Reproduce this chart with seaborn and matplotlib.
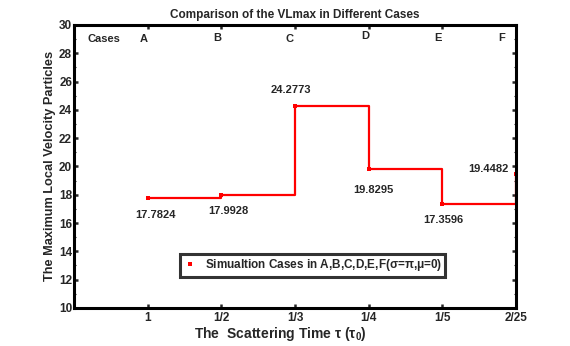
import matplotlib
matplotlib.use("Agg")
import matplotlib.pyplot as plt
import seaborn as sns
import pandas as pd
from matplotlib.lines import Line2D
from matplotlib.ticker import MultipleLocator

sns.set_style("ticks")
plt.rcParams['font.family'] = ['Liberation Sans', 'DejaVu Sans']
plt.rcParams['font.weight'] = 'bold'
plt.rcParams['mathtext.fontset'] = 'custom'
plt.rcParams['mathtext.rm'] = 'Liberation Sans'
plt.rcParams['mathtext.it'] = 'Liberation Sans'

# data
positions = [1, 2, 3, 4, 5, 6]
tick_labels = ["1", "1/2", "1/3", "1/4", "1/5", "2/25"]
cases = ["A", "B", "C", "D", "E", "F"]
vlmax = [17.7824, 17.9928, 24.2773, 19.8295, 17.3596, 19.4482]
value_labels = ["17.7824", "17.9928", "24.2773", "19.8295", "17.3596", "19.4482"]
y_ticks = [10, 12, 14, 16, 18, 20, 22, 24, 26, 28, 30]

df = pd.DataFrame({"x": positions, "y": vlmax})

fig = plt.figure(figsize=(5.7, 3.46), dpi=100)
ax = fig.add_axes([0.13, 0.11, 0.775, 0.818])

sns.lineplot(data=df, x="x", y="y", ax=ax, color="red", lw=1.6,
             drawstyle="steps-post", marker="s", markersize=2.5,
             markeredgewidth=0, legend=False)

# value annotations (offsets relative to data points)
label_offsets = [(0.11, -1.25), (0.10, -1.13), (-0.05, 1.12), (0.06, -1.49), (0.01, -1.16), (-0.37, 0.35)]
for xp, yv, txt, (dx, dy) in zip(positions, vlmax, value_labels, label_offsets):
    ax.text(xp + dx, yv + dy, txt, ha="center", va="center", fontsize=8, fontweight="bold")

# case labels along the top
ax.text(0.41, 29.0, "Cases", ha="center", va="center", fontsize=8, fontweight="bold")
case_x = [0.95, 1.95, 2.93, 3.95, 4.94, 5.81]
case_y = [29.0, 29.05, 29.0, 29.2, 29.1, 29.1]
for cx, cy, c in zip(case_x, case_y, cases):
    ax.text(cx, cy, c, ha="center", va="center", fontsize=8, fontweight="bold")

ax.set_xlim(0, 6)
ax.set_ylim(10, 30)
ax.set_xticks(positions)
ax.set_xticklabels(tick_labels, fontweight="bold")
ax.set_yticks(y_ticks)
ax.set_yticklabels([str(v) for v in y_ticks], fontweight="bold")
ax.yaxis.set_minor_locator(MultipleLocator(1))
ax.tick_params(which="major", direction="in", length=3, width=1.8, top=True, right=True,
               labelsize=8.5)
ax.tick_params(axis="y", which="major", pad=1.5)
ax.tick_params(axis="x", which="major", pad=3)
ax.tick_params(which="minor", direction="in", length=1.5, width=0.8, right=True, left=True)
for s in ax.spines.values():
    s.set_linewidth(2.2)
    s.set_color("black")

ax.set_xlabel(r"The  Scattering Time $\tau$ ($\tau_0$)", fontsize=10, fontweight="bold", labelpad=-1)
ax.xaxis.set_label_coords(0.466, -0.062)
ax.set_ylabel("The Maximum Local Velocity Particles", fontsize=9.2, fontweight="bold", labelpad=2)
ax.set_title("Comparison of the VLmax in Different Cases", fontsize=8.5, fontweight="bold", pad=5)

# legend: marker only
h = Line2D([], [], color="red", marker="s", markersize=3, linestyle="none", markeredgewidth=0)
leg = ax.legend([h], [r"Simualtion Cases in A,B,C,D,E,F($\sigma$=$\pi$,$\mu$=0)"],
                loc="center", bbox_to_anchor=(0.54, 0.15),
                frameon=True, fancybox=False, handlelength=1.2, handletextpad=0.6,
                borderpad=0.3, prop={"weight": "bold", "size": 8.5})
leg.get_frame().set_edgecolor("black")
leg.get_frame().set_linewidth(2.2)

fig.savefig("out.png", dpi=100)
